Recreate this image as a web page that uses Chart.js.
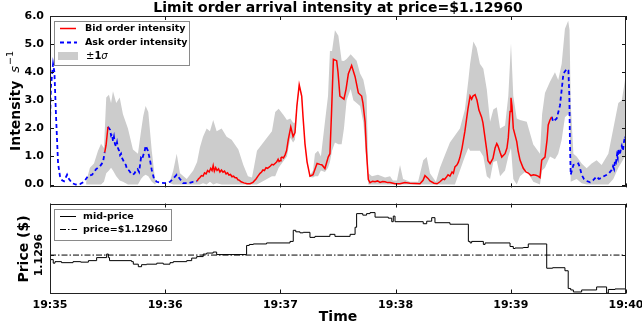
<!DOCTYPE html>
<html><head><meta charset="utf-8">
<script src="https://cdn.jsdelivr.net/npm/chart.js@4.4.1/dist/chart.umd.min.js"></script>
<style>
html,body{margin:0;padding:0;background:#fff;}
#wrap{position:relative;width:642px;height:327px;overflow:hidden;}
canvas{position:absolute;left:0;}
</style></head><body>
<div id="wrap">
<canvas id="c1" width="642" height="200" style="top:0px"></canvas>
<canvas id="c2" width="642" height="127" style="top:200px"></canvas>
</div>
<script>
// ---------------- DATA ----------------
const titleText = 'Limit order arrival intensity at price=$1.12960';
const timeTicks = [0, 60, 120, 180, 240, 300];           // seconds after 19:35:00
const timeLabels = ['19:35', '19:36', '19:37', '19:38', '19:39', '19:40'];
const intensityTicks = [0, 1, 2, 3, 4, 5, 6];
const priceTickLabels = ['1.1296'];
const refPrice = 1.1296;

// [seconds, intensity]; null = series not active
const askSeries = [
 [0,2.2],[0.5,3.5],[1.6,4.29],[2.3,4.0],[3.1,2.5],[4.2,0.75],[5.2,0.3],[6.3,0.15],[7.3,0.12],[8.9,0.35],
 [9.9,0.2],[11.5,0.05],[13.5,0.0],[15.6,0.02],[17.7,0.1],[19.8,0.3],[21.9,0.35],[24,0.55],[26,0.65],[27.6,0.8],
 [28.5,1.15],[29,null],
 [30.2,2.06],[30.8,2.0],[31.3,1.95],[31.8,1.75],[32.3,1.8],[32.8,1.55],[33.3,1.7],[33.8,1.45],[34.4,1.35],[34.9,1.5],
 [35.4,1.3],[36,1.2],[36.5,1.05],[37,1.1],[37.5,0.95],[38.2,0.85],[38.9,0.75],[39.5,0.7],[40.1,0.55],[41.2,0.5],
 [42.2,0.4],[43.2,0.35],[44,0.4],[44.8,0.5],[45.6,0.55],[46.4,0.45],[47.4,0.95],[48,0.9],[48.6,1.05],[49.2,1.15],
 [49.8,1.38],[50.4,1.3],[51,1.2],[52,0.9],[53,0.52],[54.2,0.2],[55.6,0.1],[57.3,0.07],[59.9,0.05],[62.5,0.1],
 [64,0.2],[66,0.35],[67.7,0.2],[69.3,0.05],[71.9,0.05],[74.5,0.1],[76.6,0.12],[77,null],
 [261.3,2.41],[262.1,2.24],[263,2.3],[263.9,2.35],[265.6,2.81],[266.7,3.5],[267.4,3.95],[269.1,4.12],[270,4.06],[270.5,3.15],
 [270.8,1.5],[271.2,0.35],[272.6,0.7],[274,0.72],[275.2,0.75],[276,0.6],[276.9,0.35],[278.1,0.2],[279.5,0.13],[281.3,0.08],
 [282.8,0.15],[284.7,0.29],[285.9,0.2],[287.3,0.24],[288.5,0.3],[290,0.35],[291.1,0.4],[292.5,0.52],[293.2,0.65],[293.8,0.55],
 [294.3,0.87],[294.8,0.8],[295.3,1.05],[295.7,0.95],[296,1.27],[296.5,1.05],[296.9,1.1],[297.4,1.3],[297.8,1.38],[298.4,1.2],
 [298.9,1.5],[299.5,1.72],[300,1.6]
];

const bidSeries = [
 [28.5,1.15],[29.2,1.4],[30.2,2.06],[30.5,null],
 [76.6,0.12],[77.3,0.2],[78.1,0.25],[78.9,0.32],[79.7,0.3],[80.5,0.42],[81.3,0.38],[82.1,0.5],[82.9,0.45],[83.7,0.58],
 [84.4,0.5],[85.0,0.68],[85.6,0.48],[86.3,0.6],[87.0,0.5],[87.8,0.56],[88.5,0.45],[89.3,0.52],[90.1,0.44],[90.9,0.48],
 [91.7,0.38],[92.5,0.42],[93.2,0.34],[94.0,0.36],[94.8,0.28],[95.6,0.3],[96.4,0.24],[97.2,0.24],[97.9,0.17],[98.7,0.15],
 [99.5,0.1],[101,0.06],[102.6,0.03],[104.2,0.03],[105.7,0.08],[107.3,0.2],[108.3,0.3],[109.4,0.4],[110.2,0.45],[110.9,0.52],
 [111.7,0.5],[112.5,0.6],[113.3,0.58],[114.1,0.62],[114.8,0.66],[115.6,0.72],[116.4,0.7],[117.2,0.75],[118,0.8],[118.8,0.9],
 [119.3,0.82],[119.8,0.85],[120.3,0.95],[120.8,0.98],[121.6,0.95],[122.4,1.05],[123.2,1.2],[124.1,1.6],[125.4,2.05],[126.6,1.71],
 [127.6,1.85],[128.6,2.8],[129.8,3.55],[131.1,3.15],[131.8,2.4],[132.8,1.45],[133.9,0.8],[135.4,0.3],[137,0.35],[138,0.55],
 [139.1,0.75],[140.6,0.72],[141.7,0.7],[143.2,0.57],[144.9,0.98],[145.8,1.1],[146.6,2.5],[147.6,4.46],[149.3,4.41],[150,4.0],
 [151,3.15],[153.1,3.04],[154.2,3.4],[155.4,3.95],[157.1,4.24],[158.9,3.84],[160.6,3.26],[162.3,3.15],[163,2.9],[164.1,2.24],
 [164.8,1.2],[165.8,0.18],[166.7,0.07],[168,0.12],[169.3,0.1],[170.6,0.13],[171.9,0.08],[173.2,0.11],[174.5,0.1],[175.8,0.07],
 [177.1,0.07],[179.7,0.03],[182.3,0.03],[184.9,0.07],[187.5,0.05],[190.1,0.04],[192.7,0.03],[194.3,0.15],[195.3,0.32],[196.9,0.22],
 [197.9,0.13],[200,0.05],[201.6,0.03],[203.1,0.1],[204.7,0.2],[205.5,0.18],[206.3,0.25],[207.3,0.35],[208.3,0.3],[209.4,0.45],
 [210.1,0.4],[210.9,0.63],[212,0.7],[212.7,0.8],[213.5,0.97],[214.6,1.3],[216.1,1.9],[217.7,2.7],[218.8,3.15],[219.6,3.04],
 [220.3,3.15],[221.4,3.2],[222.4,3.0],[223.4,2.65],[224.8,2.4],[225.5,2.2],[227.5,1.21],[228.1,0.85],[229.2,0.75],[230.7,0.93],
 [231.8,1.3],[232.7,1.46],[233.3,1.38],[234.4,1.15],[235.3,0.98],[237,1.1],[238,1.3],[238.7,1.67],[239.6,2.6],[240.1,3.09],
 [240.6,2.8],[241.3,2.0],[243.1,1.53],[243.8,1.2],[244.8,0.87],[246.5,0.58],[247.9,0.45],[249.1,0.41],[250.5,0.32],[251.7,0.35],
 [253.1,0.33],[254.2,0.3],[255.2,0.25],[256.1,0.87],[257.8,0.98],[258.9,1.6],[259.5,2.12],[260.4,2.3],[261.3,2.41]
];

// [seconds, upper (+1 sigma), lower (-1 sigma)]
const sigmaBand = [
 [18.8,0.1,0],[20.8,0.6,0],[22.9,0.75,0],[25,1.2,0],[26.6,1.45,0],[28.1,1.3,0.1],[29.3,3.1,0.4],[30.7,3.2,0.5],[31.8,2.9,0.6],[32.8,3.32,0.5],
 [34.5,2.9,0.3],[36.3,3.1,0.15],[38,2.5,0.1],[40.6,2.0,0],[43.2,1.25,0],[45.8,1.1,0],[47.4,1.9,0.2],[48.6,2.45,0.3],[49.8,2.8,0.35],[51.2,2.58,0.3],
 [53,1.2,0.1],[54.7,0.2,0],[55.7,0.1,0.1],[56,null,null],
 [62.5,0.12,0.05],[64.2,0.5,0],[66,1.1,0],[67.7,0.4,0],[71.2,0.2,0],[74.6,0.5,0],[76.6,0.8,0],[78.1,1.33,0],[79.7,1.7,0.05],[81.6,2.0,0],
 [83.3,1.9,0.1],[85,2.3,0],[86.8,1.9,0.05],[89.4,2.0,0],[92,1.7,0],[94.6,1.6,0],[98.1,1.25,0],[100.7,0.7,0],[103.1,0.3,0],[105.2,0.25,0],
 [106.3,0.64,0],[107.8,1.2,0],[110.4,1.44,0.1],[113,1.67,0.2],[115.6,1.9,0.3],[117.3,2.58,0.3],[119.1,2.7,0.6],[121.7,2.47,0.85],[123.4,2.3,1.0],[125.2,2.35,1.67],
 [126.6,2.2,1.5],[127.6,2.2,1.6],[128.6,2.9,2.7],[129.8,3.62,3.45],[131.1,3.22,3.05],[131.8,2.45,2.35],[132.8,1.5,1.4],[133.9,0.85,0.75],[135.4,0.33,0.27],[137,0.5,0.25],
 [138,1.1,0.3],[139.6,1.2,0.3],[141.1,1.0,0.5],[143.2,2.24,0.45],[144.8,3.15,0.6],[145.8,4.75,0.8],[146.9,4.75,1.2],[148.4,5.49,1.5],[150.2,5.3,1.44],[151.9,4.41,1.44],
 [153.1,4.4,2.0],[154.5,4.47,3.0],[156.6,4.64,3.4],[158,4.53,3.0],[159.7,4.41,2.9],[161.5,3.95,2.8],[163.2,3.73,2.2],[164.9,3.15,0.8],[165.8,0.4,0],[167.7,0.3,0],
 [170.8,0.35,0],[174.5,0.25,0],[177.1,0.3,0],[178.6,0.15,0],[180.7,0.15,0],[182.3,0.7,0],[183.9,0.2,0],[187.5,0.1,0],[191.7,0.1,0],[194.4,0.87,0],
 [196.2,0.98,0],[197.9,0.4,0],[201,0.1,0],[203.1,0.6,0],[205.7,1.05,0],[208.3,1.5,0],[210.9,1.75,0],[213.5,2.0,0.5],[216.1,2.67,1.0],[217.9,3.72,1.3],
 [218.8,4.3,1.2],[220.5,5.09,1.2],[222.2,4.87,1.2],[223.9,4.3,1.2],[225.7,4.12,1.0],[227.5,3.38,0.3],[229.2,2.24,0.2],[230.9,2.67,0.8],[232.7,2.75,0.85],[234.4,2.0,0.3],
 [237,2.1,0.5],[238.7,3.15,1.0],[240.1,5.03,1.3],[241.3,3.15,0.2],[243.1,2.35,0],[244.8,2.3,0.3],[248.3,2.24,0.5],[251.7,1.43,0.1],[255.2,1.1,0],[256.3,2.5,0.5],
 [257.8,3.26,0.6],[260.4,3.66,1.0],[263,4.0,0.9],[264.7,3.72,1.1],[266.5,4.3,1.6],[268.2,5.55,2.4],[269.9,5.83,2.5],[270.6,5.5,2.4],[271.2,2.9,0.1],[272.6,1.1,0.15],
 [274.3,1.0,0.2],[276.9,0.75,0.05],[279.5,0.58,0],[282.1,0.75,0],[284.7,0.87,0],[287.3,0.7,0],[290.8,1.1,0],[293.4,2.0,0.2],[296,2.9,0.6],[297.8,3.0,0.8],
 [299.5,3.72,1.0],[300,3.7,1.0]
];

// [seconds, mid-price $]
const midPrice = [
 [0,1.129541],[1.7,1.129591],[2.6,1.129584],[6,1.129587],[12,1.129585],[16,1.129587],[20,1.129586],[24.3,1.129589],[29.5,1.129595],[30.4,1.129602],
 [31,1.129595],[42.5,1.129589],[43.4,1.129587],[46,1.129582],[47.7,1.129577],[50.3,1.129581],[55.6,1.129582],[59,1.129584],[62.5,1.129582],[64.2,1.129585],
 [71.2,1.129587],[73.8,1.129589],[76.4,1.129594],[79.8,1.129597],[81.6,1.129602],[85,1.129604],[86.8,1.129606],[102.4,1.129601],[103.8,1.129619],[105.9,1.129621],
 [112.8,1.129622],[125,1.129624],[126.7,1.129627],[128,1.129649],[130.2,1.129646],[131.9,1.129644],[135.4,1.129645],[138,1.129635],[145.8,1.129637],[148.4,1.129641],
 [156.3,1.129637],[158.9,1.129641],[159.7,1.129655],[162.9,1.129682],[164.9,1.129679],[166.7,1.129682],[169.3,1.129684],[176.2,1.129675],[178,1.129673],[178.8,1.129666],
 [179.7,1.129677],[194.4,1.129666],[196.2,1.129662],[198.8,1.129667],[200.5,1.129674],[208.3,1.129664],[217.9,1.129661],[218.8,1.129627],[219.6,1.129624],[225.7,1.129627],
 [226.6,1.129621],[239.6,1.129624],[241.3,1.129617],[242.2,1.129613],[246.5,1.129614],[249.1,1.129615],[258.7,1.129622],[261.8,1.129574],[268.2,1.129575],[269.9,1.129569],
 [271.2,1.129534],[272.6,1.129531],[276.9,1.129527],[284.7,1.129531],[289.9,1.129537],[290.8,1.129525],[294.3,1.129532],[299.5,1.129533],[300,1.129533]
];
const priceRange = [1.129524, 1.129702];

// ---------------- DRAWING ----------------
const FONT = "'DejaVu Sans', 'Liberation Sans', sans-serif";
const xy = arr => arr.map(p => ({x: p[0], y: p[1]}));

function frameAndTicks(chart, yTickVals) {
  const ctx = chart.ctx, a = chart.chartArea, sx = chart.scales.x, sy = chart.scales.y;
  ctx.save();
  ctx.strokeStyle = '#111'; ctx.lineWidth = 1;
  ctx.beginPath();
  timeTicks.forEach(v => {
    const px = Math.round(sx.getPixelForValue(v)) + 0.5;
    ctx.moveTo(px, a.bottom); ctx.lineTo(px, a.bottom - 4);
    ctx.moveTo(px, a.top); ctx.lineTo(px, a.top + 4);
  });
  yTickVals.forEach(v => {
    const py = Math.round(sy.getPixelForValue(v)) + 0.5;
    ctx.moveTo(a.left, py); ctx.lineTo(a.left + 4, py);
    ctx.moveTo(a.right, py); ctx.lineTo(a.right - 4, py);
  });
  ctx.stroke();
  ctx.strokeStyle = '#222';
  ctx.strokeRect(Math.round(a.left) + 0.5, Math.round(a.top) + 0.5,
                 Math.round(a.right - a.left) - 1, Math.round(a.bottom - a.top) - 1);
  ctx.restore();
}

function legendBox(ctx, x0, y0, x1, y1) {
  ctx.save();
  ctx.fillStyle = '#fff';
  ctx.fillRect(x0, y0, x1 - x0, y1 - y0);
  ctx.strokeStyle = '#8a8a8a'; ctx.lineWidth = 1;
  ctx.strokeRect(x0 + 0.5, y0 + 0.5, x1 - x0, y1 - y0);
  ctx.restore();
}

const topDecor = {
  id: 'topDecor',
  afterDraw(chart) {
    const ctx = chart.ctx, a = chart.chartArea;
    frameAndTicks(chart, intensityTicks);
    ctx.save();
    ctx.fillStyle = '#000';
    // title
    ctx.font = `bold 14px ${FONT}`;
    ctx.textAlign = 'center'; ctx.textBaseline = 'middle';
    ctx.fillText(titleText, (a.left + a.right) / 2, 8);
    // y-axis label: Intensity s^-1
    ctx.save();
    ctx.translate(16, 0); ctx.rotate(-Math.PI / 2);
    ctx.textAlign = 'left'; ctx.textBaseline = 'middle';
    const f1 = `bold 14px ${FONT}`, f2 = `italic 13px ${FONT}`, f3 = `9.5px ${FONT}`;
    ctx.font = f1; const w1 = ctx.measureText('Intensity').width;
    ctx.font = f2; const w2 = ctx.measureText('s').width;
    ctx.font = f3; const w3 = ctx.measureText('\u22121').width;
    const gap = 8, total = w1 + gap + w2 + 1 + w3;
    let lx = -101 - total / 2;
    ctx.font = f1; ctx.fillText('Intensity', lx, 0); lx += w1 + gap;
    ctx.font = f2; ctx.fillText('s', lx, 0); lx += w2 + 1;
    ctx.font = f3; ctx.fillText('\u22121', lx, -5);
    ctx.restore();
    // legend
    legendBox(ctx, 54, 21, 189, 65);
    ctx.lineWidth = 1.5; ctx.strokeStyle = '#ff0000';
    ctx.beginPath(); ctx.moveTo(60, 28.5); ctx.lineTo(76, 28.5); ctx.stroke();
    ctx.strokeStyle = '#0000ff'; ctx.lineWidth = 2; ctx.setLineDash([4, 3]);
    ctx.beginPath(); ctx.moveTo(60, 42.5); ctx.lineTo(77, 42.5); ctx.stroke();
    ctx.setLineDash([]);
    ctx.fillStyle = '#cccccc'; ctx.fillRect(58, 52, 20, 8);
    ctx.fillStyle = '#000'; ctx.textAlign = 'left'; ctx.textBaseline = 'middle';
    ctx.font = `bold 9.5px ${FONT}`;
    ctx.fillText('Bid order intensity', 85, 28.5);
    ctx.fillText('Ask order intensity', 85, 42.5);
    let tx = 86;
    ctx.font = `10px ${FONT}`; ctx.fillText('\u00b1', tx, 56.5); tx += ctx.measureText('\u00b1').width;
    ctx.font = `bold 10px ${FONT}`; ctx.fillText('1', tx, 56.5); tx += ctx.measureText('1').width;
    ctx.font = `italic 10px ${FONT}`; ctx.fillText('\u03c3', tx, 56.5);
    ctx.restore();
  }
};

const botDecor = {
  id: 'botDecor',
  afterDraw(chart) {
    const ctx = chart.ctx, a = chart.chartArea, sy = chart.scales.y;
    frameAndTicks(chart, [refPrice]);
    ctx.save();
    ctx.fillStyle = '#000';
    // rotated y tick label and y title
    const py = sy.getPixelForValue(refPrice);
    ctx.save(); ctx.translate(39, py); ctx.rotate(-Math.PI / 2);
    ctx.font = `bold 11px ${FONT}`; ctx.textAlign = 'center'; ctx.textBaseline = 'middle';
    ctx.fillText(priceTickLabels[0], 0, 0);
    ctx.restore();
    ctx.save(); ctx.translate(24, 49); ctx.rotate(-Math.PI / 2);
    ctx.font = `bold 14px ${FONT}`; ctx.textAlign = 'center'; ctx.textBaseline = 'middle';
    ctx.fillText('Price ($)', 0, 0);
    ctx.restore();
    // x title
    ctx.font = `bold 14px ${FONT}`; ctx.textAlign = 'center'; ctx.textBaseline = 'middle';
    ctx.fillText('Time', (a.left + a.right) / 2, 117);
    // legend
    legendBox(ctx, 54, 9, 171, 40);
    ctx.strokeStyle = '#000'; ctx.lineWidth = 1;
    ctx.beginPath(); ctx.moveTo(60, 16.5); ctx.lineTo(76, 16.5); ctx.stroke();
    ctx.setLineDash([6, 2, 1.5, 2]);
    ctx.beginPath(); ctx.moveTo(60, 29.5); ctx.lineTo(77, 29.5); ctx.stroke();
    ctx.setLineDash([]);
    ctx.fillStyle = '#000';
    ctx.font = `bold 9.5px ${FONT}`; ctx.textAlign = 'left'; ctx.textBaseline = 'middle';
    ctx.fillText('mid-price', 83, 16.5);
    ctx.fillText('price=$1.12960', 83, 29.5);
    ctx.restore();
  }
};

const tickFont = {family: FONT, size: 11, weight: 'bold'};

new Chart(document.getElementById('c1'), {
  type: 'line',
  data: {datasets: [
    {label: 'Bid order intensity', data: xy(bidSeries), borderColor: '#ff0000', borderWidth: 1.5,
     pointRadius: 0, fill: false, tension: 0, spanGaps: false},
    {label: 'Ask order intensity', data: xy(askSeries), borderColor: '#0000ff', borderWidth: 1.8,
     borderDash: [4, 3], pointRadius: 0, fill: false, tension: 0, spanGaps: false},
    {label: '+1 sigma', data: sigmaBand.map(r => ({x: r[0], y: r[1]})), borderColor: 'rgba(0,0,0,0)',
     borderWidth: 0, backgroundColor: '#cccccc', pointRadius: 0, fill: '+1', tension: 0, spanGaps: false},
    {label: '-1 sigma', data: sigmaBand.map(r => ({x: r[0], y: r[2]})), borderColor: 'rgba(0,0,0,0)',
     borderWidth: 0, pointRadius: 0, fill: false, tension: 0, spanGaps: false}
  ]},
  options: {
    responsive: false, animation: false, events: [],
    layout: {padding: {left: 0, right: 16, top: 16, bottom: 5}},
    plugins: {legend: {display: false}, tooltip: {enabled: false}, title: {display: false}},
    scales: {
      x: {type: 'linear', min: 0, max: 300, display: false},
      y: {type: 'linear', min: -0.1, max: 6,
          afterFit: s => { s.width = 50; },
          afterBuildTicks: s => { s.ticks = intensityTicks.map(v => ({value: v})); },
          grid: {display: false, drawTicks: false}, border: {display: false},
          ticks: {padding: 6, color: '#000', font: tickFont, callback: v => Number(v).toFixed(1)}}
    }
  },
  plugins: [topDecor]
});

new Chart(document.getElementById('c2'), {
  type: 'line',
  data: {datasets: [
    {label: 'mid-price', data: xy(midPrice), borderColor: '#000', borderWidth: 1, stepped: 'after',
     pointRadius: 0, fill: false},
    {label: 'price=$1.12960', data: [{x: timeTicks[0], y: refPrice}, {x: timeTicks[timeTicks.length - 1], y: refPrice}],
     borderColor: '#000', borderWidth: 1, borderDash: [6, 2, 1.5, 2], pointRadius: 0, fill: false}
  ]},
  options: {
    responsive: false, animation: false, events: [],
    layout: {padding: {left: 0, right: 16, top: 3.5, bottom: 0}},
    plugins: {legend: {display: false}, tooltip: {enabled: false}},
    scales: {
      x: {type: 'linear', min: 0, max: 300,
          afterFit: s => { s.height = 33.5; s.paddingLeft = 0; s.paddingRight = 0; },
          afterBuildTicks: s => { s.ticks = timeTicks.map(v => ({value: v})); },
          grid: {display: false, drawTicks: false}, border: {display: false},
          ticks: {padding: 5, color: '#000', font: tickFont, maxRotation: 0, autoSkip: false,
                  callback: (v, i) => timeLabels[i]}},
      y: {type: 'linear', min: priceRange[0], max: priceRange[1],
          afterFit: s => { s.width = 50; },
          grid: {display: false, drawTicks: false}, border: {display: false},
          ticks: {display: false}}
    }
  },
  plugins: [botDecor]
});
</script>
</body></html>
